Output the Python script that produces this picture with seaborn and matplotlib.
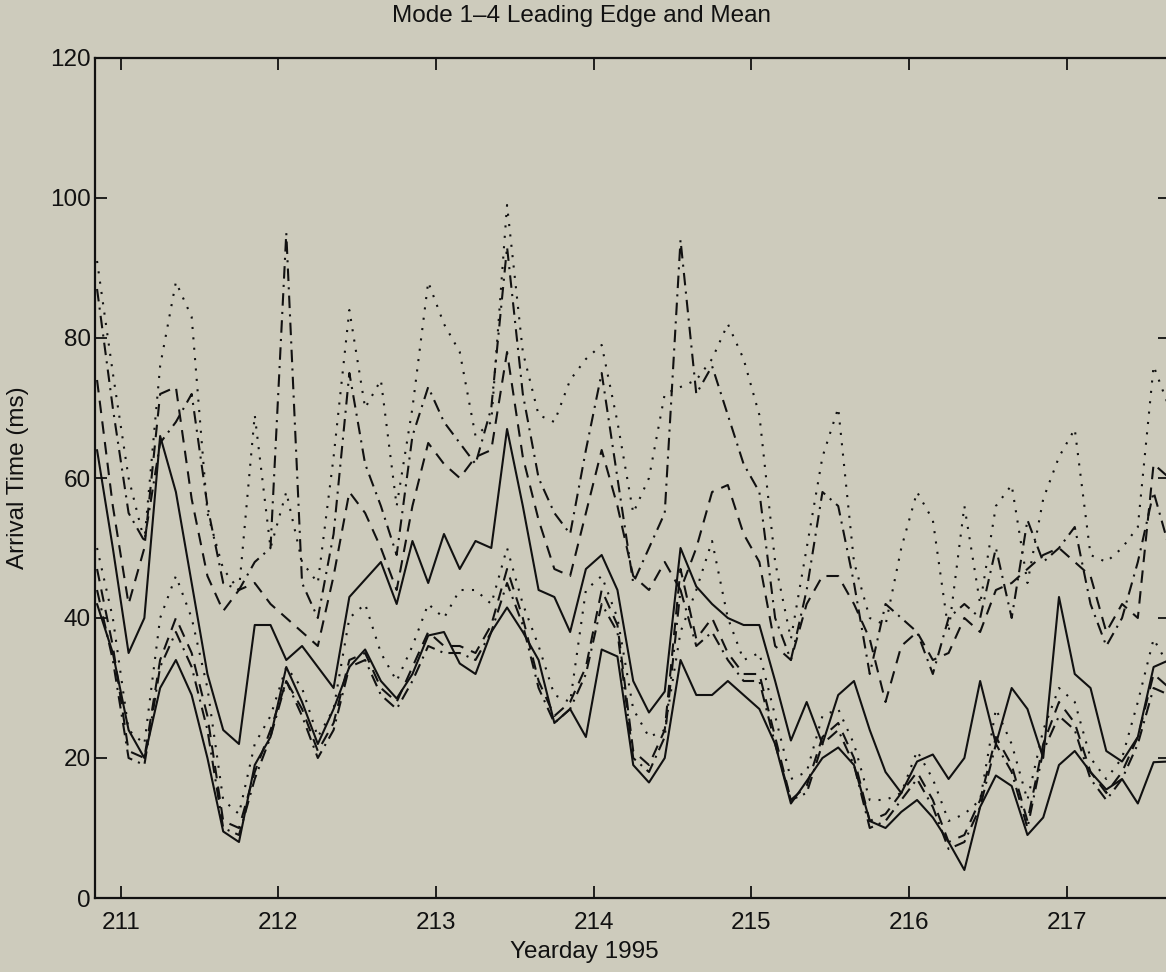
import numpy as np
import pandas as pd
import matplotlib
matplotlib.use("Agg")
import matplotlib.pyplot as plt
import seaborn as sns

BG = "#cdcbbc"
INK = "#111111"

# sampling grid, yearday 1995 (every 0.1 day)
yearday = np.round(np.arange(210.85, 217.66, 0.1), 2)

# mode 1 (solid)
mode1_mean = [64, 50, 35, 40, 66, 58, 45, 32, 24, 22, 39, 39,
              34, 36, 33, 30, 43, 45.5, 48, 42, 51, 45, 52, 47,
              51, 50, 67, 56, 44, 43, 38, 47, 49, 44, 31, 26.5,
              29.5, 50, 44.5, 42, 40, 39, 39, 31, 22.5, 28, 22, 29,
              31, 24, 18, 15, 19.5, 20.5, 17, 20, 31, 22, 30, 27,
              20, 43, 32, 30, 21, 19.5, 23, 33, 34]
mode1_edge = [42, 35, 24, 20, 30, 34, 29, 20, 9.5, 8, 19, 23,
              33, 28, 22, 27, 33, 35.5, 31, 28.5, 32, 37.5, 38, 33.5,
              32, 38, 41.5, 38, 34, 25, 27, 23, 35.5, 34.5, 19, 16.5,
              20, 34, 29, 29, 31, 29, 27, 22, 13.5, 16.7, 20, 21.5,
              19, 11, 10, 12.3, 14, 11.5, 8, 4, 13, 17.5, 16, 9,
              11.5, 19, 21, 18, 15.5, 17, 13.5, 19.4, 19.5]

# mode 2 (dashed)
mode2_mean = [74, 56, 42, 50, 72, 73, 57, 46, 41, 44, 45, 42,
              40, 38, 36, 46, 58, 55, 50, 44, 56, 65, 62, 60,
              63, 64, 78, 63, 54, 47, 46, 55, 64, 56, 46, 44,
              48, 44, 50, 58, 59, 52, 48, 36, 34, 42, 46, 46,
              42, 37, 28, 36, 38, 34, 35, 40, 38, 44, 45, 47,
              49, 50, 48, 46, 38, 42, 40, 62, 60]
mode2_edge = [47, 36, 21, 20, 34, 40, 35, 26, 11, 10, 18, 24,
              31, 27, 21, 25, 34, 35, 30, 28, 33, 38, 36, 36,
              35, 39, 47, 40, 31, 26, 28, 33, 44, 39, 21, 19,
              24, 47, 37, 40, 35, 32, 32, 23, 14, 16, 23, 25,
              20, 11, 12, 15, 18, 14, 8, 9, 14, 23, 19, 11,
              22, 28, 25, 18, 15, 18, 23, 32, 30]

# mode 3 (dotted)
mode3_mean = [91, 75, 60, 51, 76, 88, 83, 55, 47, 44, 69, 50,
              58, 48, 45, 63, 84, 70, 74, 56, 70, 88, 82, 78,
              66, 68, 99, 78, 69, 68, 74, 77, 79, 68, 55, 60,
              72, 73, 74, 77, 82, 77, 69, 48, 37, 50, 63, 70,
              48, 40, 39, 50, 58, 54, 38, 56, 42, 56, 59, 45,
              57, 63, 67, 49, 48, 50, 53, 76, 70]
mode3_edge = [50, 40, 24, 22, 40, 46, 40, 30, 14, 12, 22, 26,
              33, 30, 23, 27, 40, 42, 35, 31, 36, 42, 40, 44,
              44, 42, 50, 42, 36, 29, 28, 44, 46, 40, 27, 23,
              24, 38, 44, 51, 40, 34, 35, 26, 17, 18, 26, 27,
              22, 14, 14, 15, 21, 17, 11, 12, 14, 27, 22, 14,
              24, 30, 28, 20, 17, 20, 28, 37, 33]

# mode 4 (dash-dot)
mode4_mean = [87, 70, 55, 51, 65, 68, 72, 56, 45, 44, 48, 50,
              95, 45, 40, 52, 75, 62, 56, 49, 66, 73, 68, 65,
              62, 70, 93, 72, 60, 55, 52, 64, 75, 60, 45, 50,
              55, 94, 72, 76, 69, 62, 58, 40, 34, 44, 58, 56,
              45, 32, 42, 40, 38, 32, 40, 42, 40, 50, 40, 54,
              48, 50, 53, 42, 36, 40, 48, 58, 50]
mode4_edge = [44, 34, 20, 19, 33, 38, 33, 24, 10, 9, 17, 23,
              31, 26, 20, 24, 33, 34, 29, 27, 31, 36, 35, 35,
              34, 38, 45, 39, 30, 25, 27, 32, 42, 38, 20, 18,
              23, 44, 36, 38, 34, 31, 31, 22, 14, 15, 22, 24,
              19, 10, 11, 14, 17, 13, 7, 8, 13, 22, 18, 10,
              21, 26, 24, 17, 14, 17, 22, 30, 29]

series = {
    "Mode 1 mean": mode1_mean, "Mode 1 edge": mode1_edge,
    "Mode 2 mean": mode2_mean, "Mode 2 edge": mode2_edge,
    "Mode 3 mean": mode3_mean, "Mode 3 edge": mode3_edge,
    "Mode 4 mean": mode4_mean, "Mode 4 edge": mode4_edge,
}

LINE_DASHES = {
    "Mode 1 mean": "", "Mode 1 edge": "",
    "Mode 2 mean": (6, 4), "Mode 2 edge": (6, 4),
    "Mode 3 mean": (1, 4), "Mode 3 edge": (1, 4),
    "Mode 4 mean": (6, 3, 1, 3), "Mode 4 edge": (6, 3, 1, 3),
}

df = pd.concat(
    [pd.DataFrame({"yearday": yearday, "arrival": vals, "series": name})
     for name, vals in series.items()],
    ignore_index=True,
)

sns.set_theme(style="ticks")
plt.rcParams["font.family"] = ["Liberation Sans", "DejaVu Sans"]

fig = plt.figure(figsize=(11.66, 9.72), dpi=100, facecolor=BG)
ax = fig.add_axes([95 / 1166, 74 / 972, 1075 / 1166, 840 / 972])
ax.set_facecolor(BG)

sns.lineplot(
    data=df, x="yearday", y="arrival",
    hue="series", style="series",
    palette={name: INK for name in series},
    dashes=LINE_DASHES,
    linewidth=1.5, errorbar=None, legend=False, ax=ax,
)

ax.set_xlim(210.837, 217.654)
ax.set_ylim(0, 120)
ax.set_xticks(range(211, 218))
ax.set_yticks(range(0, 121, 20))

for side in ["left", "right", "top", "bottom"]:
    ax.spines[side].set_visible(True)
    ax.spines[side].set_color(INK)
    ax.spines[side].set_linewidth(1.6)

ax.tick_params(axis="both", which="major", direction="in", length=8.5,
               width=1.3, color=INK, top=True, right=True,
               labelsize=17.5, labelcolor=INK)
ax.tick_params(axis="x", pad=10)
ax.tick_params(axis="y", pad=3)

ax.set_title("Mode 1\u20134 Leading Edge and Mean", fontsize=17.5, color=INK,
             x=0.453, y=1.05, va="center", pad=0)
ax.set_xlabel("Yearday 1995", fontsize=17.5, color=INK)
ax.set_ylabel("Arrival Time (ms)", fontsize=17.5, color=INK)
ax.xaxis.set_label_coords(0.455, -0.051)
ax.yaxis.set_label_coords(-0.061, 0.5)

fig.savefig("out.png", dpi=100, facecolor=BG)
plt.close(fig)
